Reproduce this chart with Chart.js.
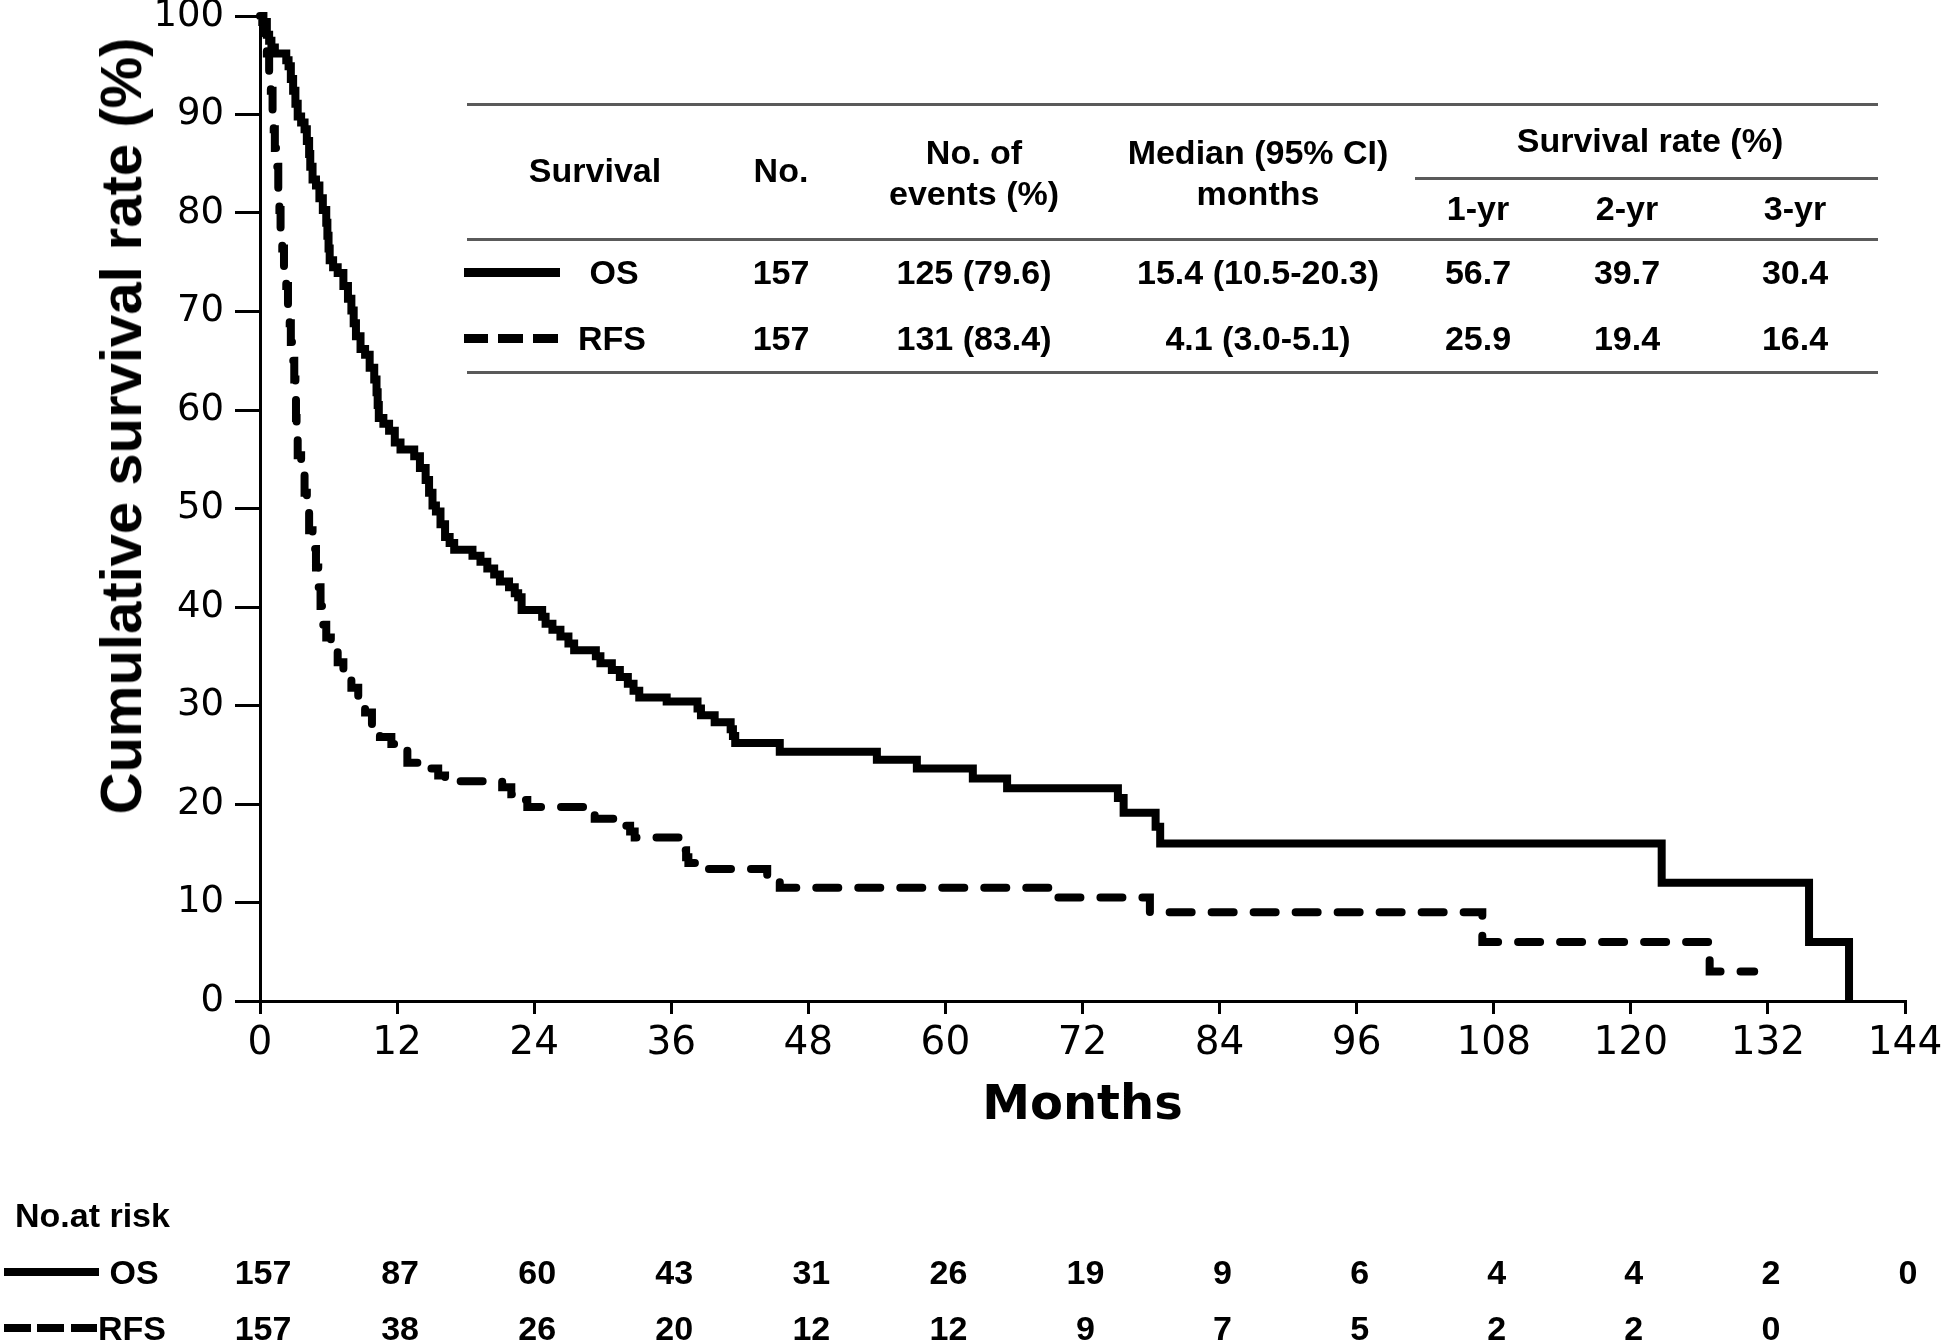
<!DOCTYPE html>
<html>
<head>
<meta charset="utf-8">
<script src="https://cdn.jsdelivr.net/npm/chart.js@4.4.1/dist/chart.umd.min.js"></script>
<style>
  html, body { margin: 0; padding: 0; background: #fff; }
  #wrap { position: relative; width: 1944px; height: 1342px; overflow: hidden; }
  #km { position: absolute; left: 0; top: 0; }
  .t { position: absolute; white-space: nowrap; line-height: 1; color: #000;
       transform: translate(-50%, -50%); font-family: "Liberation Sans", Arial, sans-serif; }
  .b { font-weight: bold; }
  .bar { position: absolute; background: #000; }
  .rule { position: absolute; background: #5a5a5a; height: 3px; }
</style>
</head>
<body>
<div id="wrap">
  <canvas id="km" width="1944" height="1342"></canvas>
</div>
<script>
// axis ticks (months)
var months = [0, 12, 24, 36, 48, 60, 72, 84, 96, 108, 120, 132, 144];

// overall survival, Kaplan-Meier steps (month, %)
var osTime = [0, 0.3, 0.6, 0.8, 1.0, 1.3, 2.3, 2.5, 2.7, 2.9, 3.1, 3.3, 3.6, 3.9, 4.1, 4.3, 4.4, 4.6, 4.9, 5.2,
  5.5, 5.8, 5.9, 6.0, 6.1, 6.4, 6.8, 7.3, 7.7, 8.0, 8.2, 8.4, 8.8, 9.2, 9.6, 10.0, 10.2, 10.3, 10.4, 10.8,
  11.3, 11.8, 12.3, 13.5, 14.0, 14.5, 14.8, 15.1, 15.4, 15.8, 16.2, 16.6, 17.0, 18.6, 19.3, 19.9, 20.5, 21.0, 21.8, 22.3,
  22.6, 22.9, 24.7, 25.0, 25.6, 26.3, 27.0, 27.5, 29.4, 29.8, 30.8, 31.5, 32.2, 32.7, 33.2, 35.6, 38.3, 38.6, 39.8, 41.2,
  41.4, 41.6, 45.5, 54.0, 57.5, 62.4, 65.4, 75.1, 75.6, 78.4, 78.8, 122.7, 135.6, 139.1];
var osSurv = [100, 99.4, 98.1, 97.5, 96.8, 96.2, 95.5, 94.9, 93.6, 92.4, 91.1, 89.8, 89.2, 88.5, 87.3, 86.0, 84.7, 83.4, 82.8, 81.5,
  80.3, 79.0, 77.7, 76.4, 75.2, 74.5, 73.9, 72.6, 71.3, 70.1, 68.8, 67.5, 66.2, 65.6, 64.3, 63.1, 61.8, 60.5, 59.2, 58.6,
  57.9, 56.7, 56.0, 55.3, 54.1, 52.9, 51.6, 50.3, 49.7, 48.4, 47.1, 46.5, 45.8, 45.2, 44.6, 43.9, 43.3, 42.6, 42.0, 41.4,
  41.0, 39.7, 39.0, 38.3, 37.7, 37.0, 36.3, 35.6, 35.0, 34.3, 33.6, 32.9, 32.2, 31.5, 30.8, 30.4, 29.7, 29.0, 28.3, 27.6,
  26.9, 26.2, 25.3, 24.5, 23.6, 22.6, 21.6, 20.6, 19.1, 17.7, 16.0, 12.0, 6.0, 0];

// recurrence-free survival
var rfsTime = [0, 0.2, 0.4, 0.6, 0.8, 0.95, 1.1, 1.2, 1.3, 1.45, 1.6, 1.7, 1.8, 1.95, 2.1, 2.3, 2.45, 2.6, 2.7, 2.85,
  3.0, 3.1, 3.15, 3.2, 3.3, 3.6, 3.9, 4.1, 4.3, 4.6, 4.9, 5.1, 5.3, 5.5, 5.8, 6.2, 6.8, 7.3, 8.0, 8.6,
  9.2, 9.8, 10.5, 11.5, 12.6, 12.9, 14.6, 15.6, 16.2, 21.2, 22.0, 22.9, 23.4, 28.9, 29.3, 31.6, 32.4, 32.8, 36.8, 37.1,
  37.3, 37.5, 38.6, 44.4, 45.5, 69.1, 77.9, 107.0, 126.9, 130.8];
var rfsSurv = [100, 99.4, 97.5, 96.2, 94.3, 92.4, 90.4, 88.5, 86.6, 84.7, 82.2, 80.3, 78.3, 76.4, 74.5, 72.6, 70.7, 68.8, 66.9, 65.0,
  63.1, 61.1, 59.2, 57.3, 55.4, 53.5, 51.6, 49.7, 47.8, 45.9, 44.0, 42.0, 40.1, 38.2, 36.9, 35.7, 34.4, 33.1, 31.8, 30.6,
  29.3, 28.0, 26.8, 26.1, 25.5, 24.2, 23.6, 22.9, 22.3, 21.7, 21.0, 20.4, 19.7, 19.1, 18.5, 17.8, 17.2, 16.6, 15.9, 15.3,
  14.6, 14.0, 13.4, 12.4, 11.5, 10.5, 9.0, 6.0, 3.0, 3.0];

// numbers at risk under each tick
var riskOS = [157, 87, 60, 43, 31, 26, 19, 9, 6, 4, 4, 2, 0];
var riskRFS = [157, 38, 26, 20, 12, 12, 9, 7, 5, 2, 2, 0];

// inset table
var headSurvival = 'Survival';
var headNo = 'No.';
var headEvents = ['No. of', 'events (%)'];
var headMedian = ['Median (95% CI)', 'months'];
var headRate = 'Survival rate (%)';
var headYears = ['1-yr', '2-yr', '3-yr'];
var rowOS = ['OS', '157', '125 (79.6)', '15.4 (10.5-20.3)', '56.7', '39.7', '30.4'];
var rowRFS = ['RFS', '157', '131 (83.4)', '4.1 (3.0-5.1)', '25.9', '19.4', '16.4'];

function pts(xs, ys) {
  return xs.map(function (x, i) { return { x: x, y: ys[i] }; });
}

var wrap = document.getElementById('wrap');
function txt(s, cx, cy, size, bold, family) {
  var d = document.createElement('div');
  d.className = 't' + (bold ? ' b' : '');
  d.style.left = cx + 'px';
  d.style.top = cy + 'px';
  d.style.fontSize = size + 'px';
  if (family) d.style.fontFamily = family;
  d.textContent = s;
  wrap.appendChild(d);
  return d;
}
function bar(x, y, w, h) {
  var d = document.createElement('div');
  d.className = 'bar';
  d.style.left = x + 'px'; d.style.top = (y - h / 2) + 'px';
  d.style.width = w + 'px'; d.style.height = h + 'px';
  wrap.appendChild(d);
}
function rule(x1, x2, y) {
  var d = document.createElement('div');
  d.className = 'rule';
  d.style.left = x1 + 'px'; d.style.top = (y - 1.5) + 'px';
  d.style.width = (x2 - x1) + 'px';
  wrap.appendChild(d);
}

var tickFontX = { family: 'DejaVu Sans', size: 39, lineHeight: 1.2 };
var tickFontY = { family: 'DejaVu Sans', size: 37, lineHeight: 1.2 };

var ctx = document.getElementById('km').getContext('2d');
var chart = new Chart(ctx, {
  type: 'line',
  data: {
    datasets: [{
      label: 'OS',
      data: pts(osTime, osSurv),
      borderColor: '#000',
      borderWidth: 8,
      stepped: true,
      pointRadius: 0,
      fill: false,
      clip: false
    }, {
      label: 'RFS',
      data: pts(rfsTime, rfsSurv),
      borderColor: '#000',
      borderWidth: 8,
      borderDash: [22, 20],
      borderCapStyle: 'round',
      stepped: true,
      pointRadius: 0,
      fill: false,
      clip: false
    }]
  },
  options: {
    responsive: false,
    animation: false,
    events: [],
    layout: { padding: { left: 0, top: 16, right: 39, bottom: 207 } },
    plugins: { legend: { display: false }, tooltip: { enabled: false } },
    scales: {
      x: {
        type: 'linear',
        min: 0,
        max: 144,
        afterFit: function (s) { s.height = 134; s.paddingLeft = 0; s.paddingRight = 0; },
        afterBuildTicks: function (s) { s.ticks = months.map(function (m) { return { value: m }; }); },
        ticks: { color: '#000', font: tickFontX, padding: 6, maxRotation: 0, autoSkip: false },
        grid: { drawOnChartArea: false, drawTicks: true, tickLength: 13, color: '#000', lineWidth: 3 },
        border: { display: true, color: '#000', width: 3 },
        title: {
          display: true, text: 'Months', color: '#000',
          font: { family: 'DejaVu Sans', weight: 'bold', size: 48, lineHeight: 1.2 },
          padding: { top: 0, bottom: 0 }
        }
      },
      y: {
        min: 0,
        max: 100,
        afterFit: function (s) { s.width = 260; s.paddingTop = 0; s.paddingBottom = 0; },
        ticks: { stepSize: 10, color: '#000', font: tickFontY, padding: 11 },
        grid: { drawOnChartArea: false, drawTicks: true, tickLength: 25, color: '#000', lineWidth: 3 },
        border: { display: true, color: '#000', width: 3 }
      }
    }
  }
});

// y axis title
var yt = txt('Cumulative survival rate (%)', 121, 426, 58, true);
yt.style.transform = 'translate(-50%, -50%) rotate(-90deg)';

// inset table
rule(467, 1878, 104);
rule(1415, 1878, 178);
rule(467, 1878, 239);
rule(467, 1878, 372);
var colX = [614, 781, 974, 1258, 1478, 1627, 1795];
var tf = 34;
txt(headSurvival, 595, 170, tf, true);
txt(headNo, colX[1], 170, tf, true);
txt(headEvents[0], colX[2], 152, tf, true);
txt(headEvents[1], colX[2], 193, tf, true);
txt(headMedian[0], colX[3], 152, tf, true);
txt(headMedian[1], colX[3], 193, tf, true);
txt(headRate, 1650, 140, tf, true);
headYears.forEach(function (h, i) { txt(h, colX[4 + i], 208, tf, true); });
rowOS.forEach(function (v, i) { txt(v, colX[i], 272, tf, true); });
rowRFS.forEach(function (v, i) { txt(v, i === 0 ? 612 : colX[i], 338, tf, true); });
bar(464, 272, 96, 9);
bar(464, 338, 24, 9); bar(498, 338, 25, 9); bar(533, 338, 25, 9);

// numbers at risk
var xs = chart.scales.x;
var rf = 34;
var lab = txt('No.at risk', 15, 1215, rf, true);
lab.style.transform = 'translate(0, -50%)';
bar(4, 1272, 95, 8);
txt('OS', 134, 1272, rf, true);
bar(4, 1328, 27, 8); bar(37, 1328, 27, 8); bar(71, 1328, 26, 8);
txt('RFS', 132, 1328, rf, true);
riskOS.forEach(function (n, i) { txt(String(n), xs.getPixelForValue(months[i]) + 3, 1272, rf, true); });
riskRFS.forEach(function (n, i) { txt(String(n), xs.getPixelForValue(months[i]) + 3, 1328, rf, true); });
</script>
</body>
</html>
